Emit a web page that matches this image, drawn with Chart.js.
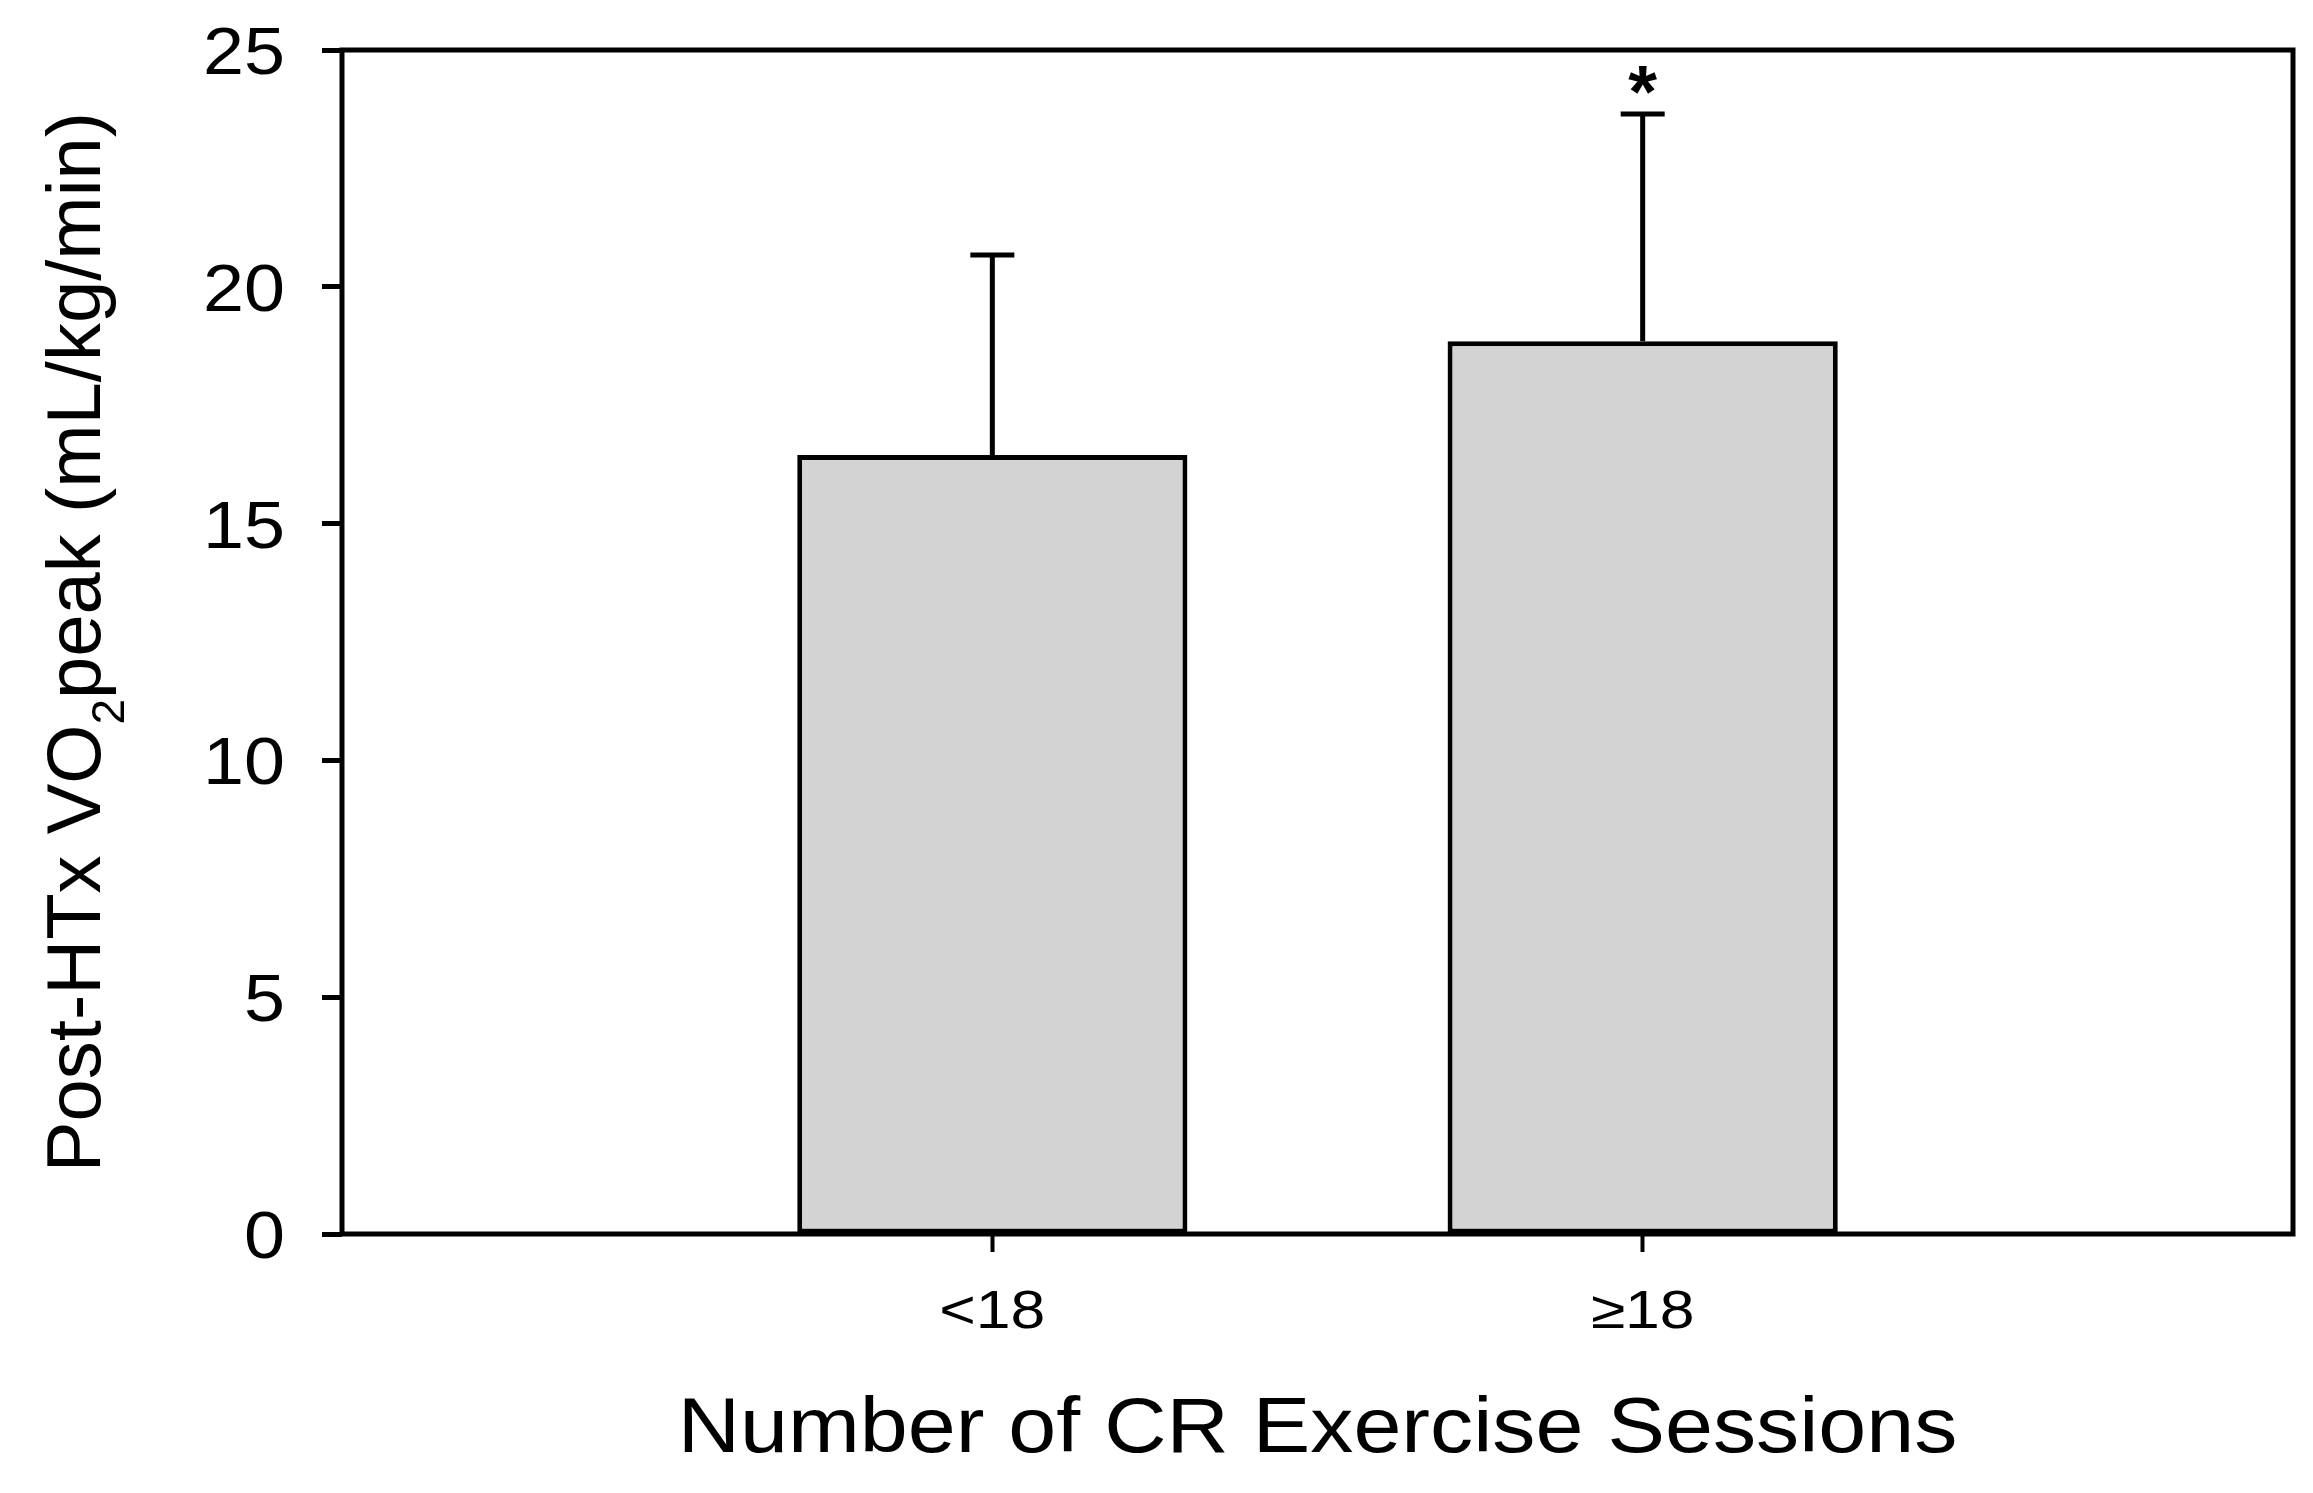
<!DOCTYPE html>
<html>
<head>
<meta charset="utf-8">
<script src="https://cdn.jsdelivr.net/npm/chart.js@4.4.1/dist/chart.umd.min.js"></script>
<style>
  html, body { margin: 0; padding: 0; background: #fff; }
  #wrap { width: 2313px; height: 1493px; }
</style>
</head>
<body>
<div id="wrap"><canvas id="chart"></canvas></div>
<script>
// values
const groups = ['<18', '\u226518'];
const groupPos = [1, 2];
const meanVO2 = [16.45, 18.85];
const sdVO2 = [4.22, 4.80];
const marks = ['', '*'];
const yTicks = [0, 5, 10, 15, 20, 25];

const xTitle = 'Number of CR Exercise Sessions';
const yTitleParts = ['Post-HTx VO', '2', 'peak (mL/kg/min)'];

const FONT = '"Liberation Sans", Arial, sans-serif';
const LW = 5;

// text drawn a little wider than the font, like the original export
function wideText(ctx, text, x, y, size, stretch, align) {
    ctx.save();
    ctx.font = size + 'px ' + FONT;
    const w = ctx.measureText(text).width * stretch;
    let left = x;
    if (align === 'center') left = x - w / 2;
    if (align === 'right') left = x - w;
    ctx.translate(left, y);
    ctx.scale(stretch, 1);
    ctx.textAlign = 'left';
    ctx.textBaseline = 'alphabetic';
    ctx.fillText(text, 0, 0);
    ctx.restore();
}

const extras = {
    id: 'extras',
    afterDatasetsDraw(chart) {
        const ctx = chart.ctx;
        const area = chart.chartArea;
        const xs = chart.scales.x;
        const ys = chart.scales.y;
        const bars = chart.getDatasetMeta(0).data;

        // error bars (upper only) and significance marks
        ctx.save();
        ctx.strokeStyle = '#000';
        ctx.fillStyle = '#000';
        ctx.lineWidth = LW;
        bars.forEach((bar, i) => {
            const top = ys.getPixelForValue(meanVO2[i] + sdVO2[i]);
            ctx.beginPath();
            ctx.moveTo(bar.x, bar.y);
            ctx.lineTo(bar.x, top);
            ctx.moveTo(bar.x - 22, top);
            ctx.lineTo(bar.x + 22, top);
            ctx.stroke();
            if (marks[i]) {
                ctx.font = 'bold 74px ' + FONT;
                ctx.textAlign = 'center';
                ctx.textBaseline = 'alphabetic';
                const m = ctx.measureText(marks[i]);
                const mid = (m.actualBoundingBoxAscent - m.actualBoundingBoxDescent) / 2;
                ctx.fillText(marks[i], bar.x, top - 34 + mid);
            }
        });
        ctx.restore();

        // frame round the plot
        ctx.save();
        ctx.strokeStyle = '#000';
        ctx.lineWidth = LW;
        ctx.strokeRect(area.left, area.top, area.right - area.left, area.bottom - area.top);
        ctx.restore();

        ctx.save();
        ctx.fillStyle = '#000';

        // tick labels
        yTicks.forEach(v => {
            const py = ys.getPixelForValue(v);
            wideText(ctx, String(v), area.left - 57, py + 0.716 * 67 / 2, 67, 1.1, 'right');
        });
        groupPos.forEach((p, i) => {
            const px = xs.getPixelForValue(p);
            wideText(ctx, groups[i], px, 1328, 53, 1.18, 'center');
        });

        // axis titles
        wideText(ctx, xTitle, (area.left + area.right) / 2, 1452, 77, 1.12, 'center');

        const big = '76px ' + FONT, small = '46px ' + FONT;
        ctx.font = big;
        const w0 = ctx.measureText(yTitleParts[0]).width;
        const w2 = ctx.measureText(yTitleParts[2]).width;
        ctx.font = small;
        const w1 = ctx.measureText(yTitleParts[1]).width;
        const total = w0 + w1 + w2;
        ctx.translate(100, (area.top + area.bottom) / 2);
        ctx.rotate(-Math.PI / 2);
        ctx.textAlign = 'left';
        ctx.textBaseline = 'alphabetic';
        let x = -total / 2;
        ctx.font = big;
        ctx.fillText(yTitleParts[0], x, 0);
        x += w0;
        ctx.font = small;
        ctx.fillText(yTitleParts[1], x, 24);
        x += w1;
        ctx.font = big;
        ctx.fillText(yTitleParts[2], x, 0);
        ctx.restore();
    }
};

new Chart(document.getElementById('chart'), {
    type: 'bar',
    data: {
        datasets: [{
            data: groupPos.map((p, i) => ({ x: p, y: meanVO2[i] })),
            backgroundColor: '#d3d3d3',
            borderColor: '#000',
            borderWidth: LW,
            borderSkipped: false,
            categoryPercentage: 0.6,
            barPercentage: 1
        }]
    },
    options: {
        responsive: true,
        maintainAspectRatio: false,
        animation: false,
        devicePixelRatio: 1,
        layout: { padding: { top: 50, right: 20, bottom: 0, left: 0 } },
        plugins: { legend: { display: false }, tooltip: { enabled: false } },
        scales: {
            x: {
                type: 'linear',
                min: 0,
                max: 3,
                offset: false,
                afterBuildTicks: (s) => { s.ticks = groupPos.map(v => ({ value: v })); },
                afterFit: (s) => { s.height = 259; },
                grid: { offset: false, drawOnChartArea: false, drawTicks: true, tickLength: 18, tickColor: '#000', tickWidth: 4 },
                border: { display: false },
                ticks: { display: false }
            },
            y: {
                min: 0,
                max: 25,
                afterBuildTicks: (s) => { s.ticks = yTicks.map(v => ({ value: v })); },
                afterFit: (s) => { s.width = 342; },
                grid: { drawOnChartArea: false, drawTicks: true, tickLength: 20, tickColor: '#000', tickWidth: LW },
                border: { display: false },
                ticks: { display: false }
            }
        }
    },
    plugins: [extras]
});
</script>
</body>
</html>
